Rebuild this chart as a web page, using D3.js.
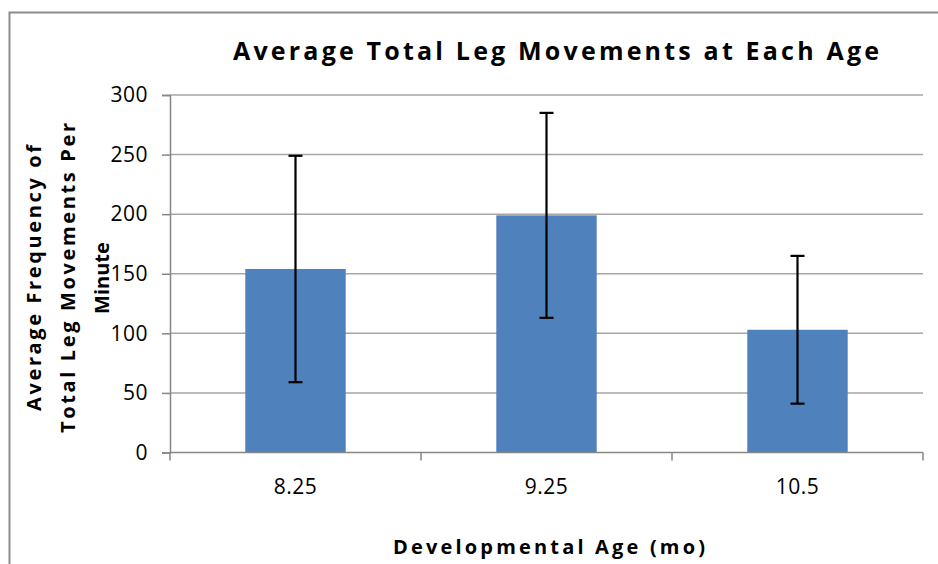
<!DOCTYPE html>
<html>
<head>
<meta charset="utf-8">
<script src="https://cdn.jsdelivr.net/npm/d3@7"></script>
<style>
  html, body { margin: 0; padding: 0; background: #ffffff; }
  svg { display: block; }
</style>
</head>
<body>
<svg id="chart" width="938" height="564"></svg>
<script>
// ---- data ----
const categories = ["8.25", "9.25", "10.5"];
const values = [154, 199, 103];
const errors = [95, 86, 62];
const yTicks = [0, 50, 100, 150, 200, 250, 300];
const titleText = "Average Total Leg Movements at Each Age";
const xTitleText = "Developmental Age (mo)";
const yTitleLines = ["Average Frequency of", "Total Leg Movements Per", "Minute"];

// ---- layout ----
const plot = { left: 170, right: 923, top: 95, bottom: 452.5 };
const svg = d3.select("#chart");
const font = "'Open Sans', 'DejaVu Sans', sans-serif";
const titleFont = "'Open Sans', sans-serif";

// outer frame
svg.append("rect")
  .attr("x", 9.5).attr("y", 12.5)
  .attr("width", 960).attr("height", 600)
  .attr("fill", "none").attr("stroke", "#8c8c8c").attr("stroke-width", 2);

const x = d3.scaleBand().domain(categories).range([plot.left, plot.right]).paddingInner(0.6).paddingOuter(0.3);
const xEdges = d3.scaleBand().domain(categories).range([plot.left, plot.right]).padding(0);
const y = d3.scaleLinear().domain([0, 300]).range([plot.bottom, plot.top]);

// gridlines
svg.append("g").selectAll("line").data(yTicks.filter(d => d > 0)).join("line")
  .attr("x1", plot.left).attr("x2", plot.right)
  .attr("y1", d => y(d)).attr("y2", d => y(d))
  .attr("stroke", "#a6a6a6").attr("stroke-width", 1.5);

// y axis
const yAxis = d3.axisLeft(y).tickValues(yTicks).tickSize(8).tickPadding(14).tickFormat(d3.format("d"));
const gy = svg.append("g").attr("transform", `translate(${plot.left},0)`).call(yAxis);
gy.select(".domain").attr("stroke", "#868686").attr("stroke-width", 1.5);
gy.selectAll(".tick line").attr("stroke", "#868686").attr("stroke-width", 1.5);
gy.selectAll(".tick text").attr("font-family", font).attr("font-size", 21)
  .attr("fill", "#000").attr("letter-spacing", "0.5px");

// bars
svg.append("g").selectAll("rect").data(categories).join("rect")
  .attr("x", d => x(d))
  .attr("width", x.bandwidth())
  .attr("y", (d, i) => y(values[i]))
  .attr("height", (d, i) => y(0) - y(values[i]))
  .attr("fill", "#4f81bd");

// x axis
const xAxis = d3.axisBottom(xEdges).tickSize(0).tickPadding(27);
const gx = svg.append("g").attr("transform", `translate(0,${plot.bottom})`).call(xAxis);
gx.select(".domain").remove();
gx.selectAll(".tick text").attr("font-family", font).attr("font-size", 21)
  .attr("fill", "#000").attr("letter-spacing", "0.5px");
svg.append("line")
  .attr("x1", plot.left).attr("x2", plot.right)
  .attr("y1", plot.bottom).attr("y2", plot.bottom)
  .attr("stroke", "#868686").attr("stroke-width", 1.5);
const edgeVals = categories.map(c => xEdges(c)).concat([xEdges(categories[categories.length - 1]) + xEdges.bandwidth()]);
svg.append("g").selectAll("line").data(edgeVals).join("line")
  .attr("x1", d => d).attr("x2", d => d)
  .attr("y1", plot.bottom).attr("y2", plot.bottom + 8)
  .attr("stroke", "#868686").attr("stroke-width", 1.5);

// error bars
const eb = svg.append("g").attr("stroke", "#000").attr("stroke-width", 2.2);
categories.forEach((c, i) => {
  const cx = x(c) + x.bandwidth() / 2;
  const hi = y(values[i] + errors[i]), lo = y(values[i] - errors[i]);
  eb.append("line").attr("x1", cx).attr("x2", cx).attr("y1", hi).attr("y2", lo);
  eb.append("line").attr("x1", cx - 7).attr("x2", cx + 7).attr("y1", hi).attr("y2", hi);
  eb.append("line").attr("x1", cx - 7).attr("x2", cx + 7).attr("y1", lo).attr("y2", lo);
});

// title
svg.append("text")
  .attr("x", 556).attr("y", 60)
  .attr("text-anchor", "middle")
  .attr("font-family", titleFont).attr("font-weight", "bold").attr("font-size", 25)
  .attr("textLength", 646).attr("lengthAdjust", "spacing")
  .text(titleText);

// x title
svg.append("text")
  .attr("x", 549).attr("y", 554)
  .attr("text-anchor", "middle")
  .attr("font-family", titleFont).attr("font-weight", "bold").attr("font-size", 20)
  .attr("textLength", 312).attr("lengthAdjust", "spacing")
  .text(xTitleText);

// y title (rotated, three lines)
const yLens = [266, 310, null];
const yBase = [41, 75, 109];
yTitleLines.forEach((t, i) => {
  const tx = svg.append("text")
    .attr("transform", `translate(${yBase[i]},278) rotate(-90)`)
    .attr("text-anchor", "middle")
    .attr("font-family", titleFont).attr("font-weight", "bold").attr("font-size", 20)
    .text(t);
  if (yLens[i]) tx.attr("textLength", yLens[i]).attr("lengthAdjust", "spacing");
});
</script>
</body>
</html>
